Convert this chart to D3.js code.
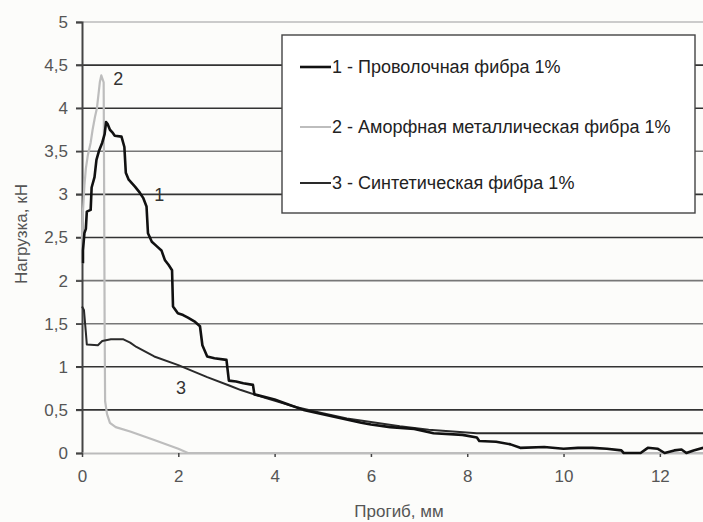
<!DOCTYPE html>
<html>
<meta charset="utf-8">
<script src="https://d3js.org/d3.v7.min.js"></script>
<style>
    body { margin: 0; background: #fcfcfa; }
    text { font-family: "Liberation Sans", Arial, sans-serif; }
</style>
<div id="chart"></div>
<script>

    // ---- data ----
    // 1 - wire fibre (black)
    var wire = [[0.02,2.2],[0.02,2.35],[0.05,2.55],[0.08,2.6],[0.1,2.8],[0.18,2.82],[0.2,3.08],[0.26,3.2],
        [0.3,3.4],[0.35,3.5],[0.42,3.6],[0.47,3.7],[0.5,3.84],[0.53,3.82],[0.58,3.75],[0.63,3.72],[0.68,3.68],
        [0.82,3.67],[0.88,3.55],[0.91,3.25],[0.97,3.17],[1.1,3.09],[1.2,3.02],[1.27,2.96],[1.34,2.86],[1.37,2.55],
        [1.45,2.45],[1.55,2.4],[1.65,2.35],[1.72,2.24],[1.8,2.18],[1.87,2.12],[1.89,1.7],[1.99,1.62],[2.1,1.6],
        [2.2,1.57],[2.35,1.52],[2.45,1.47],[2.5,1.25],[2.6,1.12],[2.75,1.1],[3.0,1.08],[3.05,0.84],[3.2,0.83],
        [3.35,0.81],[3.55,0.79],[3.58,0.68],[3.8,0.65],[4.0,0.62],[4.3,0.56],[4.6,0.5],[5.0,0.45],[5.4,0.4],
        [5.8,0.35],[6.0,0.33],[6.4,0.3],[6.9,0.28],[7.3,0.23],[7.9,0.21],[8.2,0.18],[8.25,0.14],[8.6,0.13],
        [8.9,0.1],[9.1,0.06],[9.6,0.07],[10.0,0.05],[10.3,0.06],[10.6,0.06],[10.9,0.05],[11.2,0.03],[11.25,0.0],
        [11.6,0.0],[11.75,0.06],[11.95,0.05],[12.1,0.0],[12.3,0.03],[12.45,0.04],[12.55,0.0],[12.7,0.03],[12.9,0.06]];

    // 2 - amorphous metal fibre (light grey)
    var amorphous = [[0,2.2],[0,2.5],[0.02,2.8],[0.05,3.1],[0.08,3.3],[0.12,3.45],[0.18,3.6],[0.22,3.75],
        [0.27,3.9],[0.31,4.0],[0.34,4.15],[0.37,4.3],[0.4,4.38],[0.45,4.3],[0.46,3.0],[0.47,1.5],[0.48,0.6],
        [0.52,0.45],[0.58,0.35],[0.7,0.3],[1.0,0.25],[1.5,0.15],[2.0,0.05],[2.2,0],[13,0]];

    // 3 - synthetic fibre (dark grey)
    var synthetic = [[0,1.7],[0.04,1.66],[0.08,1.4],[0.1,1.26],[0.33,1.25],[0.42,1.3],[0.6,1.32],[0.85,1.32],
        [1.0,1.28],[1.13,1.23],[1.5,1.12],[2.0,1.02],[2.6,0.88],[3.07,0.78],[3.3,0.73],[3.8,0.64],[4.46,0.53],
        [5.0,0.46],[5.5,0.4],[6.0,0.36],[6.6,0.31],[7.2,0.27],[7.7,0.25],[8.2,0.23],[13,0.23]];

    var seriesNames = ["1 - Проволочная фибра 1%", "2 - Аморфная металлическая фибра 1%", "3 - Синтетическая фибра 1%"];
    var seriesTags = ["1", "2", "3"];
    var xTicks = [0, 2, 4, 6, 8, 10, 12];
    var yTicks = [0, 0.5, 1, 1.5, 2, 2.5, 3, 3.5, 4, 4.5, 5];

    var W = 703, H = 522;
    var svg = d3.select("#chart").append("svg")
        .attr("width", W).attr("height", H);

    var x = d3.scaleLinear().domain([0, 13]).range([82, 708]);
    var y = d3.scaleLinear().domain([0, 5]).range([453, 22]);
    var fmt = function(d) { return String(d).replace(".", ","); };

    // gridlines
    svg.append("g").selectAll("line")
        .data(yTicks.filter(function(d){ return d > 0; }))
        .enter().append("line")
            .attr("x1", 76).attr("x2", W)
            .attr("y1", function(d){ return y(d); })
            .attr("y2", function(d){ return y(d); })
            .attr("stroke", function(d){ return d === 5 ? "#bbb" : (d === 3.5 || d === 2 || d === 1.5 ? "#777" : "#333"); })
            .attr("stroke-width", 1.6);

    // y axis
    var yAxis = svg.append("g")
        .attr("transform", "translate(" + x(0) + ",0)")
        .call(d3.axisLeft(y).tickValues(yTicks).tickFormat(fmt).tickSize(6).tickPadding(8));
    yAxis.select(".domain").attr("stroke", "#444").attr("stroke-width", 2);
    yAxis.selectAll(".tick line").attr("stroke", "#444").attr("stroke-width", 1.5);
    yAxis.selectAll("text").attr("fill", "#555").style("font-size", "17px").style("font-family", "Liberation Sans, Arial");

    // x axis
    var xAxis = svg.append("g")
        .attr("transform", "translate(0," + y(0) + ")")
        .call(d3.axisBottom(x).tickValues(xTicks).tickSize(4).tickPadding(13).tickSizeOuter(0));
    xAxis.select(".domain").attr("stroke", "#bbb").attr("stroke-width", 2);
    xAxis.selectAll(".tick line").attr("stroke", "#444").attr("stroke-width", 1.5);
    xAxis.selectAll("text").attr("fill", "#555").style("font-size", "17px").style("font-family", "Liberation Sans, Arial");

    // axis titles
    svg.append("text")
        .attr("x", 399).attr("y", 517)
        .attr("text-anchor", "middle")
        .attr("fill", "#555")
        .style("font-size", "17px")
        .text("Прогиб, мм");
    svg.append("text")
        .attr("transform", "translate(27,234) rotate(-90)")
        .attr("text-anchor", "middle")
        .attr("fill", "#555")
        .style("font-size", "17px")
        .text("Нагрузка, кН");

    // curves
    svg.append("clipPath").attr("id", "clip")
        .append("rect").attr("x", 80).attr("y", 15).attr("width", W).attr("height", 440);
    var line = d3.line()
        .x(function(d){ return x(d[0]); })
        .y(function(d){ return y(d[1]); });
    var plot = svg.append("g").attr("clip-path", "url(#clip)");
    plot.append("path").datum(amorphous)
        .attr("fill", "none").attr("stroke", "#bdbdbd").attr("stroke-width", 2.2)
        .attr("stroke-linejoin", "round").attr("d", line);
    plot.append("path").datum(synthetic)
        .attr("fill", "none").attr("stroke", "#2a2a2a").attr("stroke-width", 2)
        .attr("stroke-linejoin", "round").attr("d", line);
    plot.append("path").datum(wire)
        .attr("fill", "none").attr("stroke", "#111").attr("stroke-width", 2.6)
        .attr("stroke-linejoin", "round").attr("d", line);

    // curve tags
    var tagPos = [[1.5, 3.0], [0.65, 4.35], [1.95, 0.77]];
    svg.selectAll(".tag")
        .data(seriesTags)
        .enter().append("text")
            .attr("class", "tag")
            .attr("x", function(d, i){ return x(tagPos[i][0]); })
            .attr("y", function(d, i){ return y(tagPos[i][1]) + 7; })
            .attr("fill", "#333")
            .style("font-size", "18px")
            .text(function(d){ return d; });

    // legend
    var legend = svg.append("g");
    legend.append("rect")
        .attr("x", 282).attr("y", 35).attr("width", 413).attr("height", 178)
        .attr("fill", "#fff").attr("stroke", "#444").attr("stroke-width", 1.4);
    var legColors = ["#111", "#bdbdbd", "#2a2a2a"];
    var legWidths = [2.6, 2, 2];
    var legY = [67, 127, 183];
    legend.selectAll(".lline")
        .data(seriesNames)
        .enter().append("line")
            .attr("x1", 300).attr("x2", 331)
            .attr("y1", function(d, i){ return legY[i]; })
            .attr("y2", function(d, i){ return legY[i]; })
            .attr("stroke", function(d, i){ return legColors[i]; })
            .attr("stroke-width", function(d, i){ return legWidths[i]; });
    legend.selectAll(".ltext")
        .data(seriesNames)
        .enter().append("text")
            .attr("x", 332)
            .attr("y", function(d, i){ return legY[i] + 6; })
            .attr("fill", "#222")
            .style("font-size", "18px")
            .text(function(d){ return d; });

</script>
</html>
